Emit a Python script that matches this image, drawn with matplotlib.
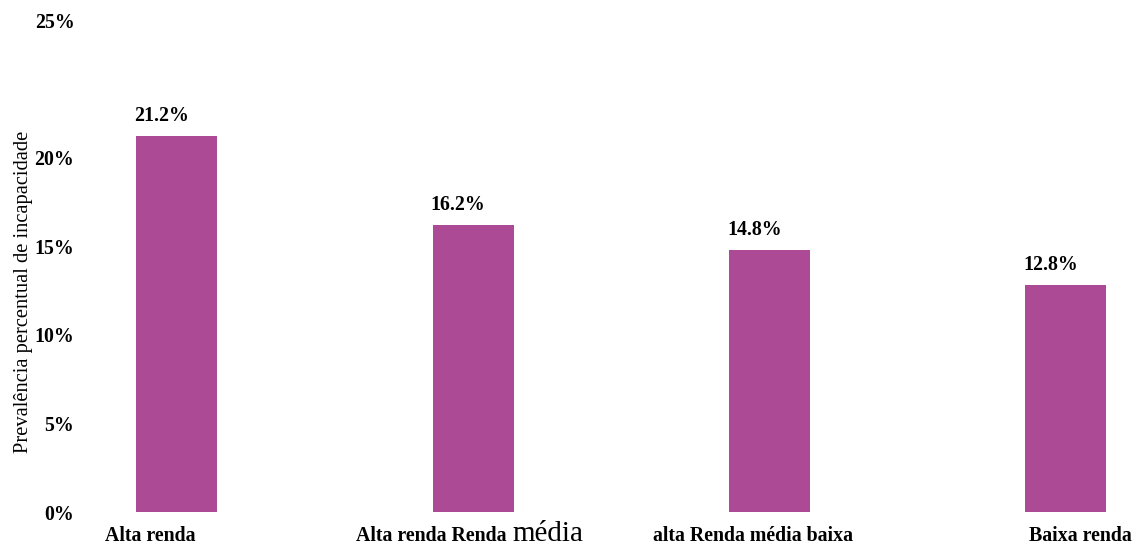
import matplotlib
matplotlib.use("Agg")
import matplotlib.pyplot as plt
import matplotlib.transforms as mtransforms

categories = ["Alta renda", "Alta renda Renda média", "alta Renda média baixa", "Baixa renda"]
values = [21.2, 16.2, 14.8, 12.8]
value_labels = ["21.2%", "16.2%", "14.8%", "12.8%"]
ytick_values = [0, 5, 10, 15, 20]
ytick_labels = ["0%", "5%", "10%", "15%", "20%"]
top_label = "25%"
ylabel = "Prevalência percentual de incapacidade"

BAR_COLOR = "#AD4A96"
SERIF = ["Liberation Serif", "DejaVu Serif"]
FS = 14.3

W, H = 1134, 545
fig = plt.figure(figsize=(W / 100, H / 100), dpi=100)
left_px, right_px, bottom_px, top_px = 88, 1125, 512, 23
ax = fig.add_axes([left_px / W, (H - bottom_px) / H,
                   (right_px - left_px) / W, (bottom_px - top_px) / H])

x = list(range(len(categories)))
ax.bar(x, values, width=0.273, color=BAR_COLOR)
ax.set_xlim(-0.3, 3.2)
ax.set_ylim(0, 27.6)

for s in ax.spines.values():
    s.set_visible(False)
ax.set_xticks([])
ax.set_yticks(ytick_values)
ax.set_yticklabels(ytick_labels, family=SERIF, fontweight="bold", fontsize=FS)
ax.tick_params(axis="y", length=0, pad=10)
ax.text(0, 1, top_label, family=SERIF, fontweight="bold", fontsize=FS,
        ha="right", va="center",
        transform=ax.transAxes + mtransforms.ScaledTranslation(-13 / 100, 0, fig.dpi_scale_trans))

ax.set_ylabel(ylabel, family=SERIF, fontsize=14.8)
ax.yaxis.set_label_coords(-0.0527, 0.45)

# value labels
for xi, v, lab in zip(x, values, value_labels):
    ax.annotate(lab, xy=(xi, v), xytext=(-15, 15), textcoords="offset pixels",
                ha="center", va="baseline", family=SERIF, fontweight="bold", fontsize=FS)

# category labels
xtr = ax.get_xaxis_transform()
offsets = [-27, None, -16, 15]
for xi, lab, off in zip(x, categories, offsets):
    if off is not None:
        ax.annotate(lab, xy=(xi, 0), xycoords=xtr, xytext=(off, -29),
                    textcoords="offset pixels", ha="center", va="baseline",
                    family=SERIF, fontweight="bold", fontsize=FS, annotation_clip=False)
    else:
        first, last = lab.rsplit(" ", 1)
        ax.annotate(first + " ", xy=(xi, 0), xycoords=xtr, xytext=(-117, -29),
                    textcoords="offset pixels", ha="left", va="baseline",
                    family=SERIF, fontweight="bold", fontsize=FS, annotation_clip=False)
        ax.annotate(last, xy=(xi, 0), xycoords=xtr, xytext=(39, -29),
                    textcoords="offset pixels", ha="left", va="baseline",
                    family=SERIF, fontsize=21, annotation_clip=False)

fig.savefig("out.png", dpi=100)
